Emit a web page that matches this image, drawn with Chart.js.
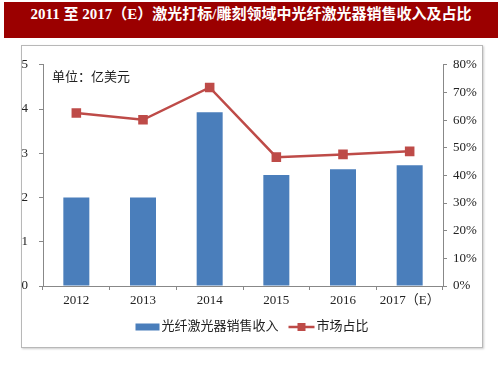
<!DOCTYPE html>
<html>
<head>
<meta charset="utf-8">
<script src="https://cdn.jsdelivr.net/npm/chart.js@4"></script>
<style>
    body { margin: 0; background: #fff; width: 503px; height: 378px; position: relative; overflow: hidden; }
    #title {
        position: absolute; left: 4px; top: 2px; width: 494px; height: 36px;
        background: #9b0000; color: #fff; text-align: center; line-height: 36px;
        font: bold 15px "Liberation Serif", "Noto Sans CJK SC", serif;
    }
    #box {
        position: absolute; left: 21px; top: 45px; width: 460px; height: 301px;
        border: 1px solid #b8b8b8; box-shadow: 1px 1px 2px #ccc;
    }
    canvas { display: block; }
</style>
</head>
<body>
<div id="title">2011 至 2017（E）激光打标/雕刻领域中光纤激光器销售收入及占比</div>
<div id="box"><canvas id="chart" width="460" height="301"></canvas></div>
<script>
let years = ['2012', '2013', '2014', '2015', '2016', '2017（E）'];
let revenue = [2.0, 2.0, 3.93, 2.51, 2.64, 2.73];
let share = [62.6, 60.1, 71.8, 46.6, 47.6, 48.7];
let seriesNames = ['光纤激光器销售收入', '市场占比'];
let unitLabel = '单位：亿美元';

const font = '"Liberation Serif", "Noto Sans CJK SC", serif';
const barColor = '#4a7ebb';
const lineColor = '#be4b48';

// draws the unit note and the legend under the axis
const extras = {
    id: 'extras',
    afterDraw(chart) {
        const ctx = chart.ctx;
        ctx.save();
        ctx.fillStyle = '#222';
        ctx.font = '13px ' + font;
        ctx.textBaseline = 'middle';
        ctx.fillText(unitLabel, 30, 32);

        const y = 281;
        const w0 = ctx.measureText(seriesNames[0]).width;
        const w1 = ctx.measureText(seriesNames[1]).width;
        const total = 24 + 2 + w0 + 10 + 26 + 2 + w1;
        let x = chart.chartArea.left + (chart.chartArea.right - chart.chartArea.left - total) / 2 + 9;
        ctx.fillStyle = barColor;
        ctx.fillRect(x, y - 3.5, 24, 7);
        x += 26;
        ctx.fillStyle = '#222';
        ctx.fillText(seriesNames[0], x, y);
        x += w0 + 10;
        ctx.strokeStyle = lineColor;
        ctx.lineWidth = 2.5;
        ctx.beginPath();
        ctx.moveTo(x, y);
        ctx.lineTo(x + 26, y);
        ctx.stroke();
        ctx.fillStyle = lineColor;
        ctx.fillRect(x + 13 - 4, y - 4, 8, 8);
        x += 28;
        ctx.fillStyle = '#222';
        ctx.fillText(seriesNames[1], x, y);
        ctx.restore();
    }
};

new Chart(document.getElementById('chart'), {
    type: 'bar',
    data: {
        labels: years,
        datasets: [{
            type: 'line',
            label: seriesNames[1],
            data: share,
            yAxisID: 'y1',
            borderColor: lineColor,
            borderWidth: 2.5,
            pointStyle: 'rect',
            pointRadius: 5,
            pointBackgroundColor: lineColor,
            pointBorderColor: lineColor,
            tension: 0,
            order: 0,
        }, {
            label: seriesNames[0],
            data: revenue,
            yAxisID: 'y',
            backgroundColor: barColor,
            barPercentage: 0.39,
            categoryPercentage: 1,
            order: 1,
        }]
    },
    options: {
        responsive: false,
        animation: false,
        layout: { padding: { top: 15, left: 0, right: 0, bottom: 0 } },
        plugins: { legend: { display: false }, tooltip: { enabled: false } },
        scales: {
            x: {
                afterFit: s => { s.height = 61; },
                grid: { drawOnChartArea: false, tickLength: 4, color: '#888' },
                border: { color: '#888' },
                ticks: { color: '#222', font: { family: font, size: 13 }, padding: 3, maxRotation: 0 },
            },
            y: {
                position: 'left',
                min: 0, max: 5,
                afterFit: s => { s.width = 21; },
                grid: { drawOnChartArea: false, tickLength: 4, color: '#888' },
                border: { color: '#888' },
                ticks: { stepSize: 1, color: '#222', font: { family: font, size: 13 }, padding: 11 },
            },
            y1: {
                position: 'right',
                min: 0, max: 80,
                afterFit: s => { s.width = 39; },
                grid: { drawOnChartArea: false, tickLength: 4, color: '#888' },
                border: { color: '#888' },
                ticks: { stepSize: 10, color: '#222', font: { family: font, size: 13 }, padding: 6, callback: v => v + '%' },
            }
        }
    },
    plugins: [extras]
});
</script>
</body>
</html>
